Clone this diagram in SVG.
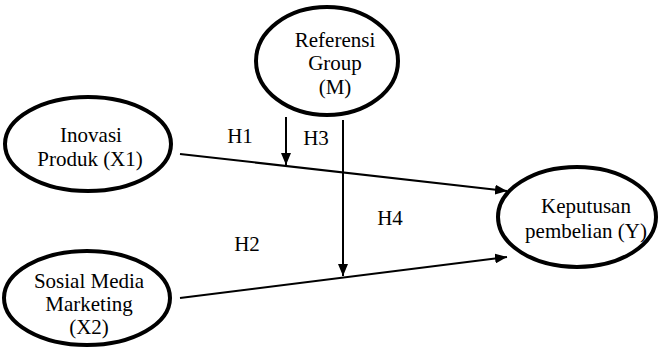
<svg xmlns="http://www.w3.org/2000/svg" width="660" height="347" viewBox="0 0 660 347">
<defs>
<style>
.node ellipse{fill:#fff;stroke:#000;stroke-width:4}
text{font-family:"Liberation Serif","Times New Roman",serif;font-size:21px;fill:#000;text-anchor:middle}
.conn line{stroke:#000;stroke-width:2}
</style>
<marker id="ah" viewBox="0 0 12 10" refX="12" refY="5" markerWidth="12" markerHeight="10" markerUnits="userSpaceOnUse" orient="auto">
<path d="M0,0 L12,5 L0,10 Z" fill="#000"/>
</marker>
</defs>
<rect width="660" height="347" fill="#fff"/>
<g id="connectors" class="conn">
<line x1="180" y1="154" x2="507" y2="191" marker-end="url(#ah)"/>
<line x1="180" y1="298" x2="507" y2="257" marker-end="url(#ah)"/>
<line x1="286" y1="117" x2="286" y2="165" marker-end="url(#ah)"/>
<line x1="343" y1="120" x2="343" y2="276" marker-end="url(#ah)"/>
</g>
<g id="labels">
<text x="240" y="143">H1</text>
<text x="316" y="145">H3</text>
<text x="390" y="225">H4</text>
<text x="247" y="251">H2</text>
</g>
<g id="referensi" class="node">
<ellipse cx="327" cy="61" rx="71" ry="54"/>
<text x="335" y="47">Referensi</text>
<text x="335" y="70">Group</text>
<text x="335" y="94">(M)</text>
</g>
<g id="inovasi" class="node">
<ellipse cx="88" cy="144" rx="83" ry="47"/>
<text x="91" y="142">Inovasi</text>
<text x="90" y="166">Produk (X1)</text>
</g>
<g id="sosial" class="node">
<ellipse cx="87" cy="298" rx="83" ry="47"/>
<text x="89" y="288">Sosial Media</text>
<text x="89" y="311">Marketing</text>
<text x="89" y="334">(X2)</text>
</g>
<g id="keputusan" class="node">
<ellipse cx="577" cy="217" rx="79" ry="50"/>
<text x="586" y="213">Keputusan</text>
<text x="586" y="238">pembelian (Y)</text>
</g>
</svg>
